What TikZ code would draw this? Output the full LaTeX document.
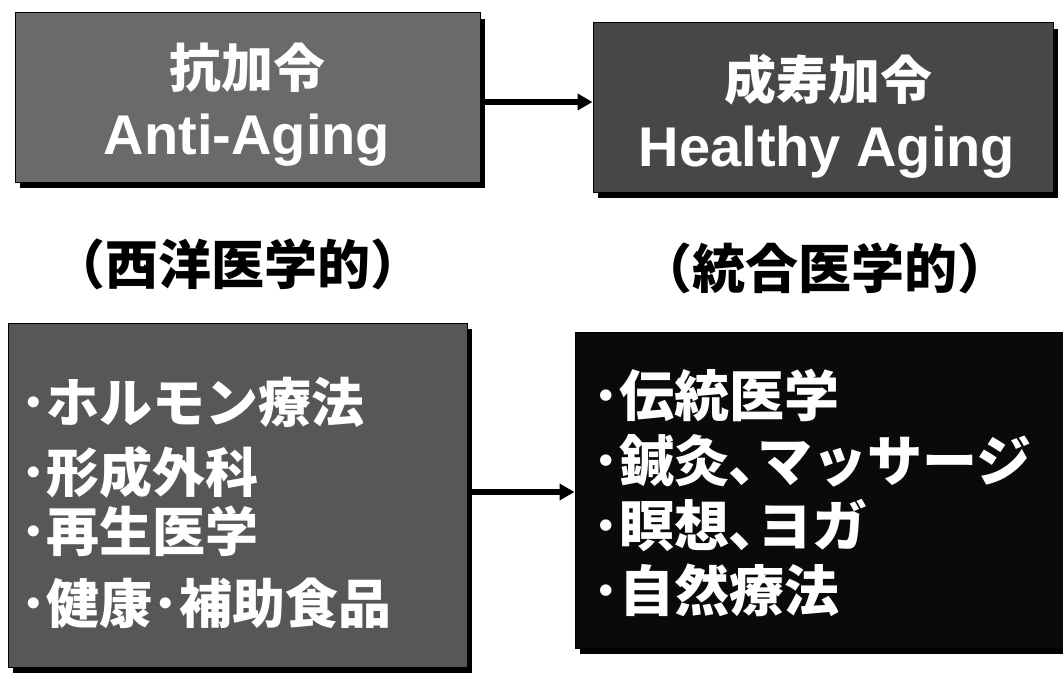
\documentclass[tikz,border=0pt]{standalone}
\usepackage{fontspec}
\setmainfont{Liberation Sans}
\newfontfamily\jp{Noto Sans CJK JP}
\usetikzlibrary{arrows.meta,shadows}
\definecolor{boxA}{HTML}{6A6A6A}
\definecolor{boxB}{HTML}{474747}
\definecolor{boxC}{HTML}{575757}
\definecolor{boxD}{HTML}{0A0A0A}
\tikzset{
  panel/.style={rectangle, draw=black, line width=1pt, inner sep=0pt,
    drop shadow={shadow xshift=5pt, shadow yshift=-6pt, opacity=1, fill=black}},
  jtitle/.style={text=white, inner sep=0pt, font=\jp\bfseries\fontsize{52}{52}\selectfont},
  etitle/.style={text=white, inner sep=0pt, anchor=base, font=\bfseries\fontsize{56}{56}\selectfont},
  mid/.style={text=black, inner sep=0pt, font=\jp\bfseries\fontsize{53}{53}\selectfont},
  item/.style={text=white, inner sep=0pt, anchor=west, font=\jp\bfseries\fontsize{53}{53}\selectfont},
  itemd/.style={item, font=\jp\bfseries\fontsize{55}{55}\selectfont},
  conn/.style={line width=5.5pt, -{Triangle[length=15pt,width=16pt]}}
}
\begin{document}
\begin{tikzpicture}[x=1pt,y=-1pt]
\useasboundingbox (0,0) rectangle (1063,674);
% boxes
\node[panel, fill=boxA, minimum width=465pt, minimum height=169pt] (A) at (247.5,97.5) {};
\node[panel, fill=boxB, minimum width=460pt, minimum height=169pt] (B) at (823,107.5) {};
\node[panel, fill=boxC, minimum width=459pt, minimum height=344pt] (C) at (237.5,495) {};
\node[panel, fill=boxD, minimum width=495pt, minimum height=316pt] (D) at (822.5,490) {};
% titles
\node[jtitle] (a1) at (247,68) {抗加令};
\node[etitle] (a2) at (247,155) {Anti-Aging};
\node[jtitle] (b1) at (828,80) {成寿加令};
\node[etitle] (b2) at (827,167) {Healthy Aging};
% middle labels
\node[mid] (m1) at (238,264) {（西洋医学的）};
\node[mid] (m2) at (825,268) {（統合医学的）};
% lists
\node[item] (c1) at (20,402) {･ホルモン療法};
\node[item] (c2) at (20,472) {･形成外科};
\node[item] (c3) at (20,531) {･再生医学};
\node[item] (c4) at (20,603) {･健康･補助食品};
\node[itemd] (d1) at (592,395) {･伝統医学};
\node[itemd] (d2) at (592,462) {･鍼灸､マッサージ};
\node[itemd] (d3) at (592,526) {･瞑想､ヨガ};
\node[itemd] (d4) at (592,590) {･自然療法};
% connectors
\draw[conn] (A.east |- 0,102) -- (B.west |- 0,102);
\draw[conn] (C.east |- 0,492) -- (D.west |- 0,492);
\end{tikzpicture}
\end{document}
